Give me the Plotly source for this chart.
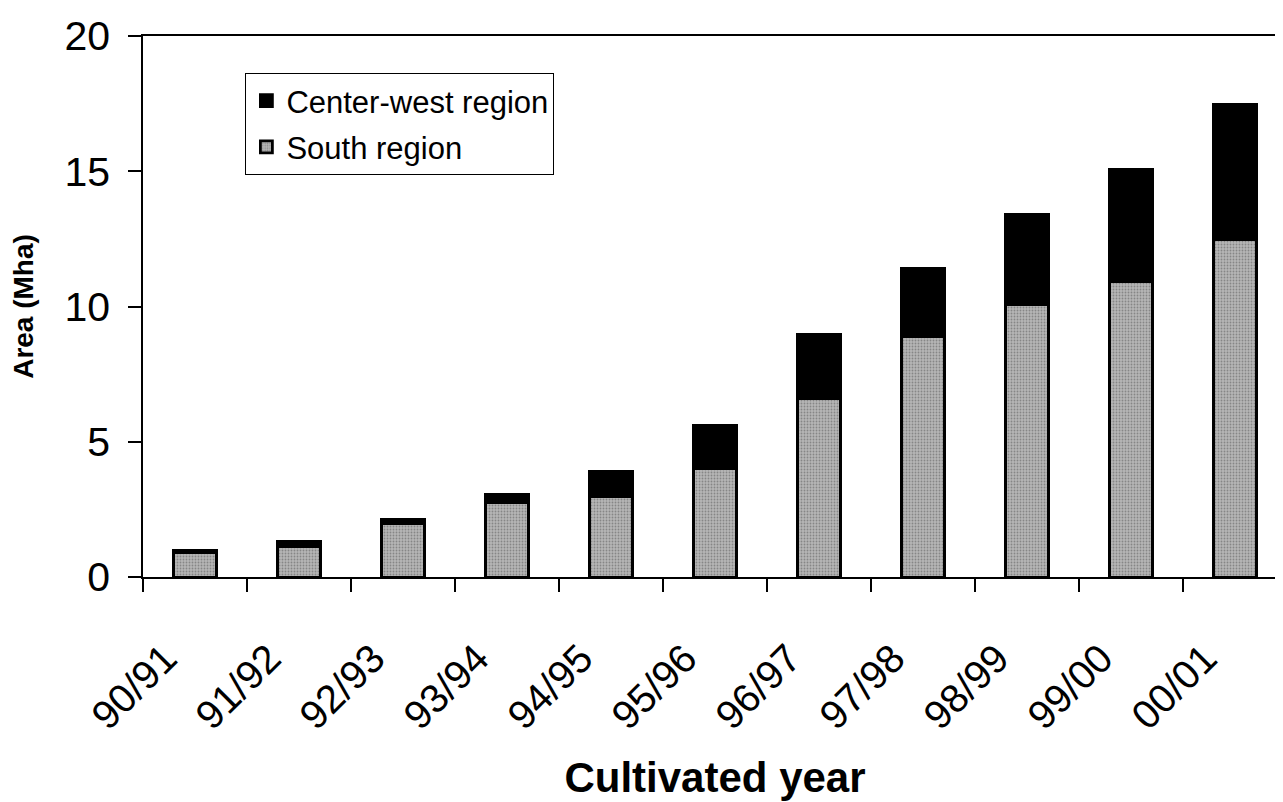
import plotly.graph_objects as go

years = ["90/91", "91/92", "92/93", "93/94", "94/95", "95/96",
         "96/97", "97/98", "98/99", "99/00", "00/01"]
south = [0.92, 1.12, 1.98, 2.74, 2.98, 4.00, 6.58, 8.87, 10.06, 10.92, 12.47]
center_west = [0.06, 0.19, 0.15, 0.32, 0.94, 1.59, 2.38, 2.54, 3.34, 4.15, 5.00]
y_ticks = [0, 5, 10, 15, 20]

FONT = "Liberation Sans, Arial, sans-serif"

fig = go.Figure()
fig.add_trace(go.Bar(
    x=years, y=south, name="South region", legendgroup="s", legendrank=2,
    marker=dict(color="#b4b4b4",
                line=dict(color="black", width=2.8),
                pattern=dict(shape=".", bgcolor="#b6b6b6", fgcolor="#555555",
                             size=3, solidity=0.3, fillmode="overlay")),
))
fig.add_trace(go.Bar(
    x=years, y=center_west, name="Center-west region", legendgroup="c", legendrank=1,
    marker=dict(color="black", line=dict(color="black", width=2.8)),
))

fig.update_layout(
    width=1283, height=802,
    barmode="stack", bargap=0.585,
    paper_bgcolor="white", plot_bgcolor="white",
    margin=dict(l=135, r=4, t=28, b=233),
    font=dict(family=FONT, color="black"),
    showlegend=True,
    legend=dict(
        x=0.0895, y=0.9316, xanchor="left", yanchor="top",
        bgcolor="white", bordercolor="black", borderwidth=1,
        font=dict(size=31, family=FONT, color="black"),
        traceorder="grouped", tracegroupgap=3,
    ),
    xaxis=dict(
        type="category", range=[-0.5, 10.5],
        tickson="boundaries", ticks="outside", ticklen=13, tickcolor="black",
        tickwidth=1.5, showline=True, linecolor="black", linewidth=1.5,
        mirror=True, showgrid=False, zeroline=False,
        tickangle=-45, tickfont=dict(size=40, family=FONT),
        ticklabelstandoff=40, ticklabelshift=-30,
        automargin=False,
        title=dict(text="<b>Cultivated year</b>", font=dict(size=42, family=FONT),
                   standoff=26),
    ),
    yaxis=dict(
        range=[0, 20], tickvals=y_ticks, ticktext=[str(v) for v in y_ticks],
        ticks="outside", ticklen=13, tickcolor="black", tickwidth=1.5,
        showline=True, linecolor="black", linewidth=1.5,
        showgrid=False, zeroline=False,
        tickfont=dict(size=41, family=FONT),
        ticklabelstandoff=10,
        automargin=False,
        title=dict(text="<b>Area (Mha)</b>", font=dict(size=28, family=FONT),
                   standoff=24),
    ),
)

fig.write_html("out.html")
